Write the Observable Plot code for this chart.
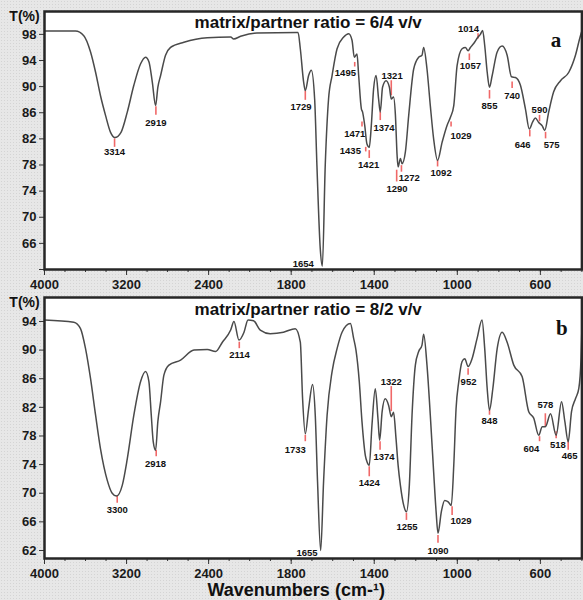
<!DOCTYPE html>
<html><head><meta charset="utf-8">
<script src="https://cdn.jsdelivr.net/npm/d3@7"></script>
<script src="https://cdn.jsdelivr.net/npm/@observablehq/plot@0.6"></script>
<style>
html,body{margin:0;padding:0;background:#e7e7e7;}
#chart{width:583px;height:600px;background-color:#e7e7e7;background-image:radial-gradient(#d4d4d4 0.7px, transparent 0.8px);background-size:3px 3px;}
#chart svg{display:block;}
</style></head><body><div id="chart"></div>
<script>
// ---------- data ----------
const titleA = "matrix/partner ratio = 6/4 v/v";
const titleB = "matrix/partner ratio = 8/2 v/v";
const xTickLabels = [4000, 3200, 2400, 1800, 1400, 1000, 600];
const yTicksA = [62, 66, 70, 74, 78, 82, 86, 90, 94, 98];
const yTicksB = [62, 66, 70, 74, 78, 82, 86, 90, 94];

const specA_wn = [4000,3698,3617,3551,3502,3454,3405,3356,3314,3254,
3193,3129,3063,3015,2982,2949,2917,2895,2868,2820,
2771,2641,2413,2185,2156,2088,1965,1772,1767,1756,
1740,1732,1716,1703,1687,1676,1660,1650,1636,1620,
1603,1579,1547,1523,1507,1496,1483,1475,1462,1456,
1446,1435,1424,1414,1403,1391,1379,1371,1360,1343,
1327,1318,1307,1298,1290,1285,1274,1266,1250,1234,
1210,1186,1170,1162,1146,1130,1114,1095,1073,1049,
1033,1017,1001,977,961,948,937,921,900,889,
878,868,856,845,832,808,784,760,739,720,
696,672,653,637,624,608,591,579,560,536,
503,463,431,407,400];
const specA_t = [98.5,98.5,97.8,95.3,92.2,88.6,85.6,83.0,82.2,83.0,
86.1,90.2,93.5,94.5,93.8,90.7,87.1,89.9,91.7,94.8,
96.0,96.8,97.5,97.6,97.3,97.7,98.2,98.3,98.3,95.8,
90.7,89.4,91.7,92.5,88.1,77.9,65.2,62.5,77.9,88.1,
91.7,95.8,97.6,98.1,97.1,94.5,95.0,91.7,86.6,86.1,
84.1,81.2,80.7,84.1,89.7,91.7,88.1,86.1,89.9,90.9,
89.9,88.1,88.4,85.6,79.5,77.7,79.0,78.2,80.0,85.6,
92.7,94.5,94.8,96.0,92.7,87.1,82.0,78.7,81.5,84.1,
85.3,87.1,93.2,95.8,96.0,95.5,96.0,96.6,97.6,98.0,
98.6,96.3,92.2,89.9,91.7,95.3,96.2,94.8,91.5,91.4,
90.2,86.6,83.5,84.6,85.2,84.5,84.0,83.3,86.1,89.2,
90.9,92.2,94.8,97.8,98.5];

const specB_wn = [4000,3714,3649,3600,3551,3502,3454,3388,3340,3298,
3242,3193,3129,3063,3015,2982,2959,2940,2917,2895,
2868,2836,2787,2673,2543,2413,2332,2266,2185,2153,
2104,2055,2016,1981,1949,1901,1837,1780,1756,1745,
1732,1716,1697,1684,1673,1658,1644,1627,1603,1579,
1555,1515,1499,1488,1472,1459,1443,1435,1424,1411,
1395,1382,1374,1362,1347,1331,1318,1307,1295,1285,
1274,1258,1245,1231,1218,1202,1186,1170,1162,1146,
1130,1114,1102,1093,1077,1061,1044,1029,1017,1006,
993,977,964,948,929,905,881,868,856,845,
829,808,784,760,728,688,656,632,608,591,
576,551,524,498,482,466,450,431,415,404,
400];
const specB_t = [94.2,93.9,93.0,90.2,86.0,80.9,76.2,71.8,70.0,69.6,
71.1,74.8,80.9,85.6,87.0,85.6,80.9,77.2,76.0,80.0,
82.8,86.5,87.9,88.6,90.0,90.1,89.8,91.1,92.8,94.0,
91.4,92.5,94.2,94.1,92.8,92.3,92.5,93.0,91.1,83.2,
78.3,81.8,85.2,80.9,71.6,62.0,71.6,80.9,87.0,90.2,
92.5,93.7,91.6,90.0,85.6,80.0,75.3,74.4,73.9,79.5,
84.6,80.4,77.4,81.4,83.2,82.3,80.7,81.3,77.6,73.9,
71.1,68.3,67.4,71.1,80.9,87.9,89.8,90.7,92.2,87.9,
80.9,73.0,67.4,64.4,67.4,69.0,68.8,68.3,73.9,81.8,
85.6,88.4,88.8,87.7,88.8,91.6,94.2,90.2,84.6,81.6,
84.6,90.2,92.5,91.1,87.9,86.3,81.4,80.5,78.1,79.3,
79.3,81.1,78.1,82.8,80.0,77.2,81.4,83.2,84.6,89.0,
93.0];

// peak annotations, panel a
const peaksA_label = ["3314","2919","1729","1654","1495","1471","1435","1421","1374","1321","1290","1272","1092","1029","1057","1014","855","740","646","590","575"];
const peaksA_wn    = [3317,2914,1732,null,1494,1459,1441,1424,1371,1318,1292,1269,1095,1030,942,900,845,736,651,604,575];
const peaksA_t1    = [82.0,86.9,89.3,null,93.7,84.6,80.7,80.2,86.1,90.9,77.2,77.9,78.7,84.6,95.0,98.1,89.4,90.7,83.3,85.6,83.0];
const peaksA_t2    = [80.7,85.6,87.9,null,93.0,83.8,80.0,79.0,84.8,88.6,75.4,76.9,77.7,83.8,94.0,97.3,88.1,89.7,82.3,84.6,82.0];
const peaksA_textWn= [3317,2914,1753,1742,1539,1494,1515,1427,1353,1314,1290,1231,1078,982,937,946,845,736,685,604,546];
const peaksA_textT = [80.0,84.5,86.9,62.8,92.1,82.8,80.1,78.0,83.7,91.7,74.4,76.0,76.8,82.5,93.1,98.8,87.1,88.6,81.1,86.5,81.1];

// peak annotations, panel b
const peaksB_label = ["3300","2918","2114","1733","1655","1424","1374","1322","1255","1090","1029","952","848","604","578","518","465"];
const peaksB_wn    = [3291,2911,2101,1732,null,1424,1372,1318,1245,1093,1025,948,845,604,576,524,466];
const peaksB_t1    = [69.6,76.0,91.1,78.1,null,73.7,77.2,84.9,67.2,64.1,68.1,87.4,81.6,77.9,81.1,78.6,77.2];
const peaksB_t2    = [68.6,75.1,90.2,77.2,null,72.3,76.0,81.4,66.2,63.0,66.9,86.5,80.9,77.2,79.3,77.6,76.0];
const peaksB_textWn= [3291,2917,2098,1780,1724,1424,1353,1318,1242,1093,982,946,845,643,576,516,459];
const peaksB_textT = [67.6,74.1,89.3,76.0,61.6,71.4,75.1,85.6,65.3,62.0,66.1,85.5,80.1,76.2,82.3,76.8,75.2];

// ---------- drawing ----------
const FONT = "'Liberation Sans', Arial, sans-serif";
// FTIR axis with a scale change at 2000 cm-1 (expanded below 2000)
const warp = d3.scaleLinear().domain([4000, 2000, 400]).range([0, 2000, 2000 + 1600 * 2.0245]);
const xMax = warp(400);
const rows = (w, t) => w.map((d, i) => ({wn: d, t: t[i]}));
const peakRows = (lab, wn, t1, t2, tw, tt) => lab.map((l, i) => ({label: l, wn: wn[i], t1: t1[i], t2: t2[i], tw: tw[i], tt: tt[i]}));
const minorX = d3.range(4000, 1999, -200).concat(d3.range(1900, 399, -100));
const X = f => d => (d[f] == null ? NaN : warp(d[f]));
const one = (s, o) => Plot.text([s], {text: d => d, textAnchor: "middle", lineAnchor: "middle", fontWeight: "bold", fill: "#111", ...o});

function panel({spec, peaks, yDomain, yTicks, hideFirstY, title, letter, height, marginTop, marginBottom, letterDx, letterDy, tDy, titleDy, xLabel}) {
  const marks = [
    Plot.frame({fill: "white", stroke: null}),
    Plot.axisX({ticks: minorX.map(warp), tickSize: 3, tickFormat: () => "", label: null, stroke: "#333"}),
    Plot.axisX({ticks: xTickLabels.map(warp), tickSize: 6, tickPadding: 4, label: null, fontWeight: "bold", fontSize: 13, fill: "#1a1a1a", stroke: "#333",
      tickFormat: d => String(Math.round(warp.invert(d)))}),
    Plot.axisY({ticks: yTicks, tickSize: 5, tickPadding: 3, label: null, fontWeight: "bold", fontSize: 13, fill: "#1a1a1a", stroke: "#333",
      tickFormat: d => (hideFirstY && d === yTicks[0]) ? "" : String(d)}),
    Plot.ruleX(peaks.filter(d => d.wn != null), {x: X("wn"), y1: "t1", y2: "t2", stroke: "#f06868", strokeWidth: 1.6}),
    Plot.line(spec, {x: X("wn"), y: "t", stroke: "#4a4a4a", strokeWidth: 1.5, curve: "monotone-x"}),
    Plot.text(peaks, {x: X("tw"), y: "tt", text: "label", fontWeight: "bold", fontSize: 9.5, fill: "#111", fontFamily: FONT}),
    Plot.frame({stroke: "#262626", strokeWidth: 2.5}),
    one("T(%)", {frameAnchor: "top-left", dx: -20, dy: tDy, fontSize: 14}),
    one(title, {frameAnchor: "top", dx: -5, dy: titleDy, fontSize: 17}),
    one(letter, {frameAnchor: "top-right", dx: letterDx, dy: letterDy, fontSize: 21, fontFamily: "'Liberation Serif', 'Times New Roman', serif"})
  ];
  if (xLabel) marks.push(one(xLabel, {frameAnchor: "bottom", dx: -17, dy: 32, fontSize: 18}));
  return Plot.plot({
    width: 583, height, marginLeft: 44, marginRight: 1.6, marginTop, marginBottom,
    style: {background: "transparent", fontFamily: FONT, color: "#1a1a1a", overflow: "visible"},
    x: {domain: [0, xMax]},
    y: {domain: yDomain},
    marks
  });
}

const chart = document.getElementById("chart");
chart.append(panel({
  spec: rows(specA_wn, specA_t),
  peaks: peakRows(peaksA_label, peaksA_wn, peaksA_t1, peaksA_t2, peaksA_textWn, peaksA_textT),
  yDomain: [62, 101.5], yTicks: yTicksA, hideFirstY: true,
  title: titleA, letter: "a", height: 295, marginTop: 11, marginBottom: 26,
  letterDx: -26, letterDy: 29, tDy: 5, titleDy: 11.5
}));
chart.append(panel({
  spec: rows(specB_wn, specB_t),
  peaks: peakRows(peaksB_label, peaksB_wn, peaksB_t1, peaksB_t2, peaksB_textWn, peaksB_textT),
  yDomain: [60.88, 97.35], yTicks: yTicksB, hideFirstY: false,
  title: titleB, letter: "b", height: 305, marginTop: 2, marginBottom: 42,
  letterDx: -20, letterDy: 31, tDy: 5.5, titleDy: 12,
  xLabel: "Wavenumbers (cm-¹)"
}));
</script></body></html>
